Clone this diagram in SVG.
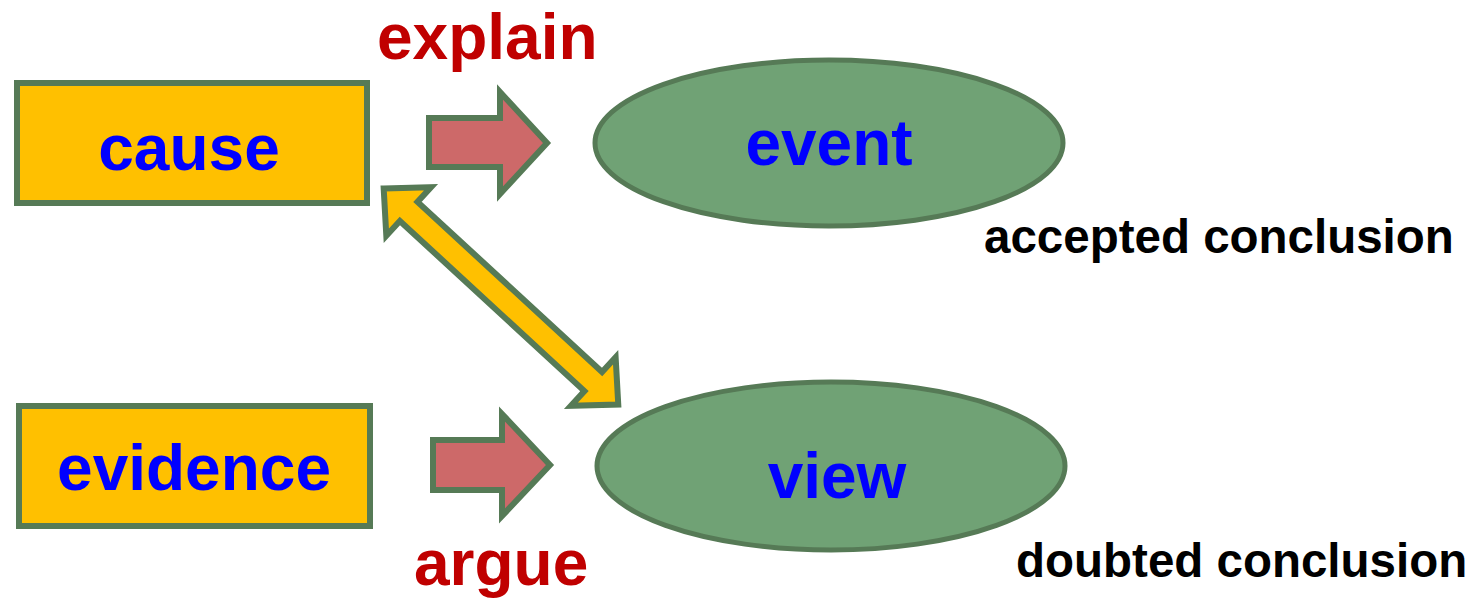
<svg xmlns="http://www.w3.org/2000/svg" width="1479" height="600" viewBox="0 0 1479 600">
<style>
.box{fill:#FFC000;stroke:#567A56;stroke-width:6}
.ell{fill:#70A275;stroke:#567A56;stroke-width:5}
.red{fill:#CD6969;stroke:#567A56;stroke-width:6;stroke-linejoin:miter}
.dbl{fill:#FFC000;stroke:#567A56;stroke-width:6;stroke-linejoin:miter}
.node{font-family:"Liberation Sans",Arial,sans-serif;font-weight:bold;font-size:64px;fill:#0000FF;text-anchor:middle}
.verb{font-family:"Liberation Sans",Arial,sans-serif;font-weight:bold;font-size:64px;fill:#C00000}
.note{font-family:"Liberation Sans",Arial,sans-serif;font-weight:bold;font-size:47.5px;fill:#000}
</style>
<rect width="1479" height="600" fill="#fff"/>
<g id="cause"><rect class="box" x="17" y="83" width="350" height="120"/><text class="node" x="189" y="170">cause</text></g>
<g id="evidence"><rect class="box" x="19" y="406" width="351" height="120"/><text class="node" x="194" y="490">evidence</text></g>
<g id="event"><ellipse class="ell" cx="829" cy="143" rx="234" ry="83"/><text class="node" x="829" y="165">event</text></g>
<g id="view"><ellipse class="ell" cx="831" cy="466" rx="234" ry="84"/><text class="node" x="837" y="498">view</text></g>
<g id="connectors">
<path class="red" d="M429,118 L500,118 L500,92 L547,143 L500,194 L500,167 L429,167 Z"/>
<path class="red" d="M433,440 L502,440 L502,414 L550,465 L502,516 L502,490 L433,490 Z"/>
<path class="dbl" transform="translate(380,185) rotate(42.66)" d="M5,0 L39,-33 L39,-13 L290,-13 L290,-33 L324,0 L290,33 L290,13 L39,13 L39,33 Z"/>
</g>
<text class="verb" x="377" y="59">explain</text>
<text class="verb" x="414" y="585">argue</text>
<text class="note" x="984" y="253">accepted conclusion</text>
<text class="note" x="1016" y="577">doubted conclusion</text>
</svg>
